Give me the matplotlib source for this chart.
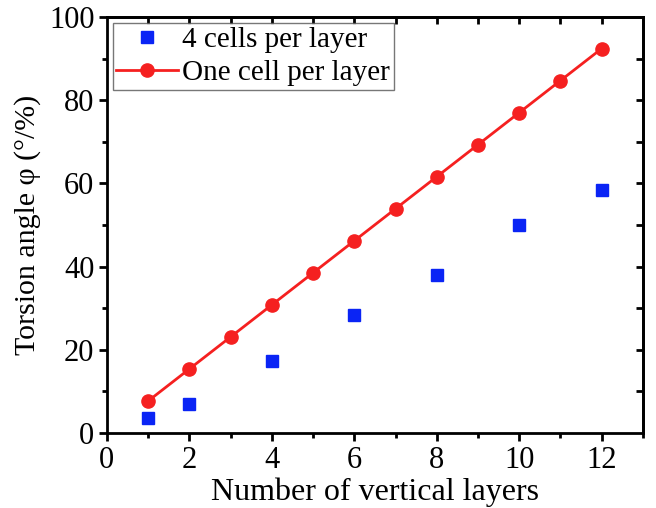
import matplotlib
matplotlib.use("Agg")
import matplotlib.pyplot as plt
from matplotlib.ticker import MultipleLocator

# Data
layers_four = [1, 2, 4, 6, 8, 10, 12]
angle_four = [3.6, 7.0, 17.3, 28.4, 38.0, 50.0, 58.4]
layers_one = [1, 2, 3, 4, 5, 6, 7, 8, 9, 10, 11, 12]
angle_one = [7.7, 15.4, 23.1, 30.8, 38.5, 46.2, 53.9, 61.6, 69.3, 77.0, 84.7, 92.4]

label_four = "4 cells per layer"
label_one = "One cell per layer"
xlabel = "Number of vertical layers"
ylabel = "Torsion angle φ (°/%)"

plt.rcParams['font.family'] = ['Liberation Serif', 'DejaVu Serif']

fig = plt.figure(figsize=(6.56, 5.08), dpi=100)
ax = fig.add_axes([0.163, 0.1476, 0.817, 0.819])

ax.plot(layers_four, angle_four, linestyle='none', marker='s', color='#0a24f5',
        markersize=8.5, label=label_four, zorder=3)
ax.plot(layers_one, angle_one, linestyle='-', marker='o', color='#f52020',
        linewidth=2, markersize=9.5, label=label_one, zorder=3)

ax.set_xlim(0, 13)
ax.set_ylim(0, 100)
ax.xaxis.set_major_locator(MultipleLocator(2))
ax.xaxis.set_minor_locator(MultipleLocator(1))
ax.yaxis.set_major_locator(MultipleLocator(20))
ax.yaxis.set_minor_locator(MultipleLocator(10))

for s in ax.spines.values():
    s.set_linewidth(2)

ax.tick_params(axis='both', which='major', direction='out', length=6, width=2,
               labelsize=22, pad=3, colors='black')
ax.tick_params(axis='both', which='minor', direction='out', length=3.5, width=2)

# Inward ticks along top and right
top = ax.secondary_xaxis('top')
top.set_xticks(layers_one)
top.tick_params(direction='in', length=5, width=2, labeltop=False)
top.set_xticklabels([])
right = ax.secondary_yaxis('right')
right.set_yticks([10, 20, 30, 40, 50, 60, 70, 80, 90])
right.tick_params(direction='in', length=5, width=2, labelright=False)
right.set_yticklabels([])
for sec in (top, right):
    for s in sec.spines.values():
        s.set_linewidth(2)

ax.set_xlabel(xlabel, fontsize=23, labelpad=2)
ax.set_ylabel(ylabel, fontsize=21.5, labelpad=6)

leg = ax.legend(loc='upper left', fontsize=21, frameon=True, fancybox=False,
                edgecolor='#555555', borderpad=0.12, labelspacing=0.25,
                handlelength=2.1, handletextpad=0.17, borderaxespad=0.2)
leg.get_frame().set_linewidth(1)

fig.savefig("out.png", dpi=100)
